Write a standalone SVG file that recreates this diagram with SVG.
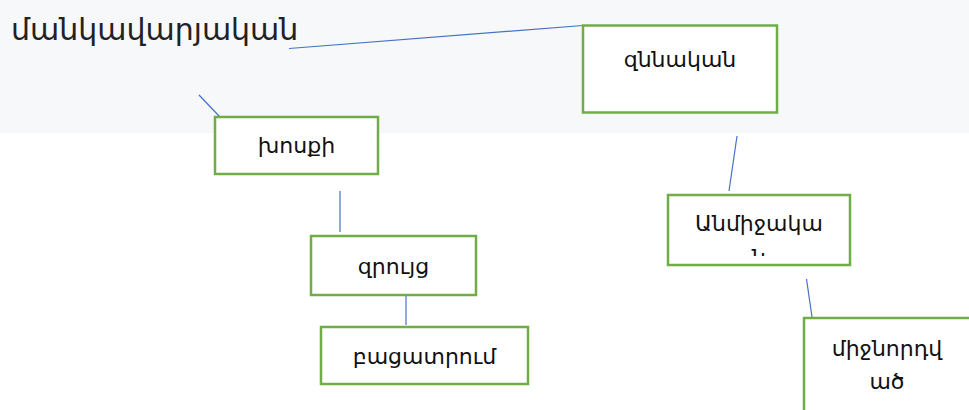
<svg xmlns="http://www.w3.org/2000/svg" width="969" height="410" viewBox="0 0 969 410">
  <style>
    .box { fill: #ffffff; stroke: #70ad47; stroke-width: 2.5; }
    .lbl { font-family: "DejaVu Sans", "Noto Sans", sans-serif; font-size: 22px; fill: #111111; text-anchor: middle; }
    .title { font-family: "DejaVu Sans", "Noto Sans", sans-serif; font-size: 30px; fill: #222222; }
    .link { stroke: #4472c4; stroke-width: 1.2; fill: none; }
  </style>
  <defs>
    <clipPath id="clipDirect">
      <rect x="669" y="196" width="180" height="60"/>
    </clipPath>
    <clipPath id="clipMediated">
      <rect x="805" y="319" width="164" height="91"/>
    </clipPath>
  </defs>

  <!-- page background with the light header band -->
  <rect x="0" y="0" width="969" height="410" fill="#ffffff"/>
  <rect x="0" y="0" width="969" height="133" fill="#f7f8fa"/>

  <g id="title">
    <text class="title" x="11" y="40">մանկավարյական</text>
  </g>

  <g id="connectors">
    <line class="link" x1="289" y1="48.5" x2="583" y2="25.5"/>
    <line class="link" x1="199" y1="95" x2="220" y2="117"/>
    <line class="link" x1="340" y1="191" x2="340" y2="232"/>
    <line class="link" x1="406" y1="292" x2="406" y2="325"/>
    <line class="link" x1="737" y1="136" x2="729" y2="191"/>
    <line class="link" x1="806.5" y1="279" x2="812" y2="317"/>
  </g>

  <g id="node-znnakan">
    <rect class="box" x="583" y="25.5" width="194" height="87"/>
    <text class="lbl" x="680" y="67">զննական</text>
  </g>

  <g id="node-khosqi">
    <rect class="box" x="215" y="117" width="163" height="57"/>
    <text class="lbl" x="296.5" y="153">խոսքի</text>
  </g>

  <g id="node-zruyc">
    <rect class="box" x="311" y="236" width="165" height="59"/>
    <text class="lbl" x="393.5" y="274">զրույց</text>
  </g>

  <g id="node-bacatrum">
    <rect class="box" x="321" y="327" width="207" height="57"/>
    <text class="lbl" x="424.5" y="364">բացատրում</text>
  </g>

  <g id="node-anmijakan">
    <rect class="box" x="668" y="195" width="182" height="70"/>
    <g clip-path="url(#clipDirect)">
      <text class="lbl" x="759" y="231">Անմիջակա</text>
      <text class="lbl" x="759" y="265">ն</text>
    </g>
  </g>

  <g id="node-mijnordvac">
    <rect class="box" x="804" y="318" width="170" height="100"/>
    <g clip-path="url(#clipMediated)">
      <text class="lbl" x="887" y="356">միջնորդվ</text>
      <text class="lbl" x="887" y="389">ած</text>
    </g>
  </g>
</svg>
